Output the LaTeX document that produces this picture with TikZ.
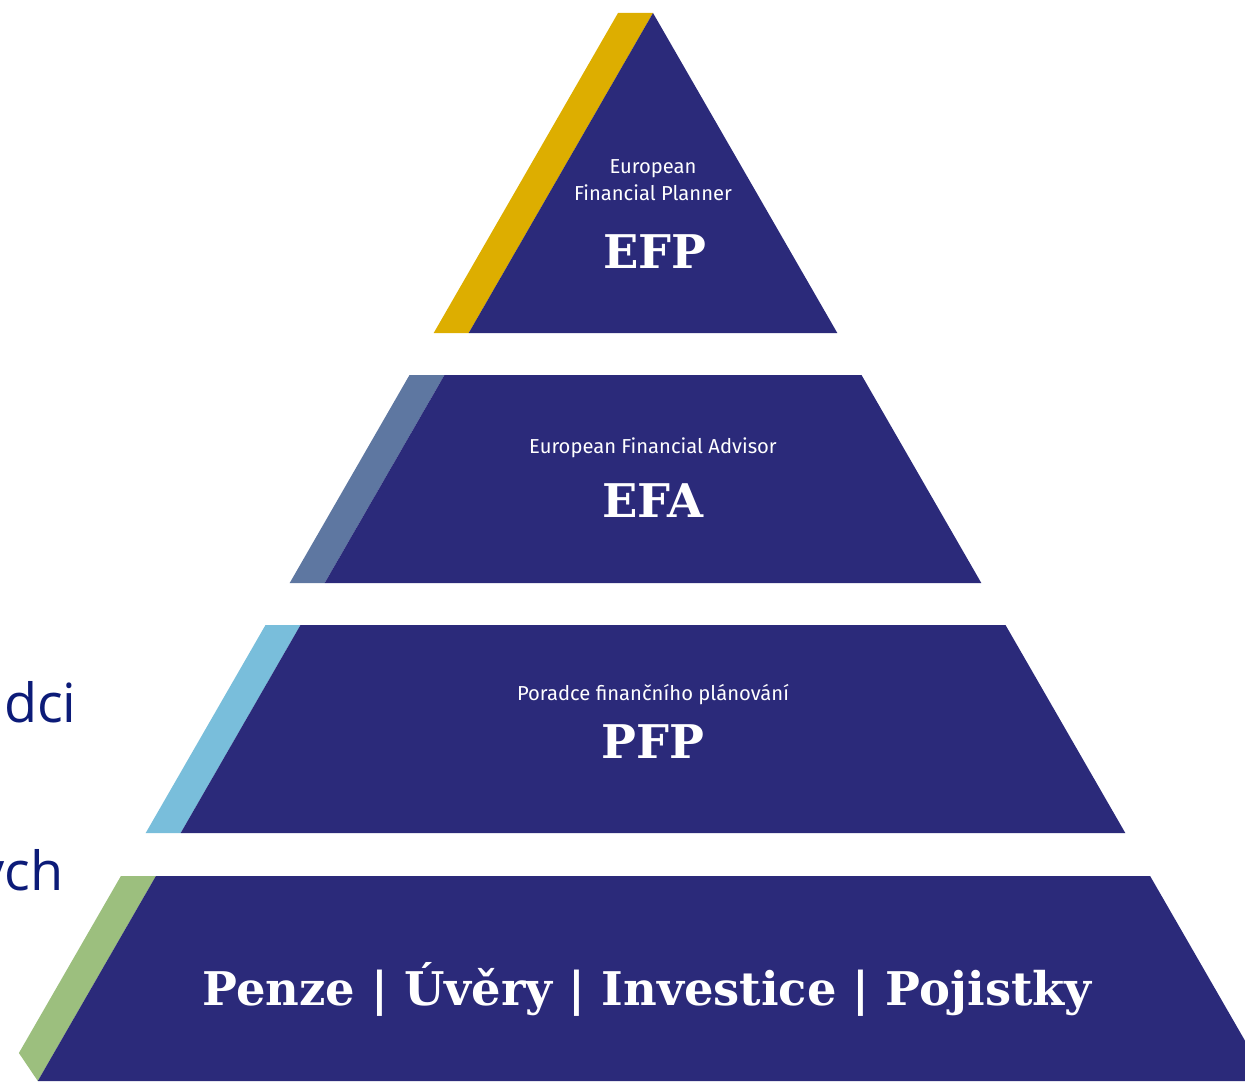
\documentclass[tikz,border=0pt]{standalone}
\usepackage{fontspec}
\usepackage{xcolor}
\usepackage{tikz}
\setmainfont{DejaVu Serif}
\newfontfamily\labelfont{Fira Sans}
\newfontfamily\slidefont{Open Sans}
\definecolor{navy}{HTML}{2B2A7A}
\definecolor{gold}{HTML}{DDAE00}
\definecolor{slate}{HTML}{5E77A1}
\definecolor{sky}{HTML}{79BEDB}
\definecolor{sage}{HTML}{9CBF7E}
\definecolor{slideblue}{HTML}{0C1B78}

\begin{document}
\begin{tikzpicture}[x=0.5pt,y=-0.5pt,
    small/.style={text=white,font=\labelfont\fontsize{10.1}{12}\selectfont,anchor=base,inner sep=0pt},
    big/.style={text=white,font=\bfseries\fontsize{23.2}{28}\selectfont,anchor=base,inner sep=0pt},
    slide/.style={text=slideblue,font=\slidefont\fontsize{27}{32}\selectfont,anchor=base east,inner sep=0pt}]
    \useasboundingbox (0,0) rectangle (1245,1081);
    \clip (0,0) rectangle (1245,1081);
    % left text of the slide, cut off
    \node[slide] (poradci) at (77,722) {adci};
    \node[slide] (vych) at (64,890) {ých};
    % top: EFP
    \fill[gold] (618,13) -- (653,13) -- (468.7,333) -- (433.7,333) -- cycle;
    \fill[navy] (653,13) -- (837.3,333) -- (468.7,333) -- cycle;
    % EFA
    \fill[slate] (409.5,375) -- (444.5,375) -- (324.7,583) -- (289.7,583) -- cycle;
    \fill[navy] (444.5,375) -- (861.5,375) -- (981.3,583) -- (324.7,583) -- cycle;
    % PFP
    \fill[sky] (265.5,625) -- (300.5,625) -- (180.7,833) -- (145.7,833) -- cycle;
    \fill[navy] (300.5,625) -- (1005.5,625) -- (1125.3,833) -- (180.7,833) -- cycle;
    % base
    \fill[sage] (120.9,876) -- (155.9,876) -- (37.8,1081) -- (18.9,1053) -- cycle;
    \fill[navy] (155.9,876) -- (1150.1,876) -- (1268.2,1081) -- (37.8,1081) -- cycle;
    % texts
    \node[small] (efp1) at (653,173) {European};
    \node[small] (efp2) at (653,200) {Financial Planner};
    \node[big] (efp) at (655,268) {EFP};
    \node[small] (efa1) at (653,453) {European Financial Advisor};
    \node[big] (efa) at (653,517) {EFA};
    \node[small] (pfp1) at (653,700) {Poradce finančního plánování};
    \node[big] (pfp) at (653,758) {PFP};
    \node[big] (obory) at (647,1005) {Penze | Úvěry | Investice | Pojistky};
\end{tikzpicture}
\end{document}
